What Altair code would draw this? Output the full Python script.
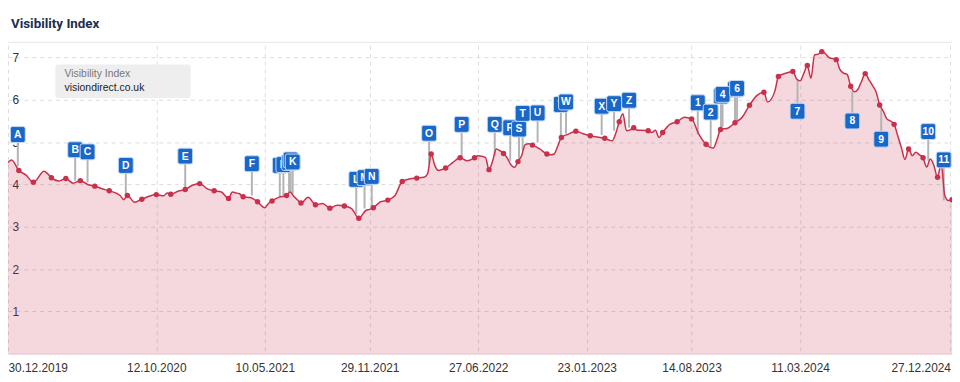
import altair as alt
import pandas as pd

START = "2019-12-30"

# weekly series: week number since START, visibility value
WEEKS = [0, 1, 3, 5, 7, 10, 11, 12, 14, 16,
         18, 20, 22, 24, 26, 28, 31, 32, 33, 35,
         37, 39, 41, 43, 44, 45, 47, 49, 51, 53,
         55, 57, 59, 61, 62, 63, 64, 65, 67, 69,
         71, 72, 73, 75, 77, 78, 79, 80, 81, 83,
         85, 87, 89, 91, 93, 95, 97, 99, 100, 101,
         103, 105, 107, 109, 111, 113, 115, 116, 117, 118,
         119, 121, 123, 125, 127, 129, 130, 132, 133, 134,
         135, 136, 137, 138, 139, 140, 141, 142, 143, 144,
         145, 147, 149, 150, 151, 152, 153, 155, 157, 159,
         161, 163, 165, 167, 168, 169, 170, 171, 172, 173,
         174, 175, 177, 178, 179, 180, 181, 183, 185, 187,
         189, 191, 193, 195, 196, 197, 199, 201, 203, 205,
         207, 209, 210, 212, 213, 215, 217, 218, 219, 220,
         221, 222, 223, 224, 225, 226, 227, 229, 230, 231,
         232, 233, 234, 235, 236, 237, 238, 239, 240, 241,
         242, 243, 244, 245, 246, 247, 248, 249, 250, 251,
         252, 253, 254, 255, 256, 257, 258, 259, 260, 261]

VALUES = [4.52, 4.58, 4.33, 4.22, 4.05, 4.31, 4.25, 4.16, 4.08, 4.14,
          4.03, 4.09, 4.00, 3.96, 3.90, 3.85, 3.74, 3.64, 3.74, 3.58,
          3.65, 3.72, 3.76, 3.73, 3.80, 3.77, 3.84, 3.88, 3.98, 4.02,
          3.90, 3.85, 3.82, 3.67, 3.82, 3.80, 3.78, 3.71, 3.69, 3.59,
          3.45, 3.55, 3.61, 3.70, 3.74, 3.82, 3.72, 3.64, 3.56, 3.70,
          3.52, 3.55, 3.44, 3.51, 3.49, 3.43, 3.20, 3.39, 3.41, 3.45,
          3.59, 3.63, 3.74, 4.07, 4.13, 4.15, 4.17, 4.25, 4.72, 4.45,
          4.33, 4.39, 4.52, 4.63, 4.56, 4.63, 4.68, 4.64, 4.35, 4.56,
          4.84, 4.80, 4.73, 4.63, 4.47, 4.40, 4.54, 4.68, 4.94, 4.96,
          4.93, 4.84, 4.72, 4.70, 4.72, 4.91, 5.11, 5.19, 5.26, 5.20,
          5.15, 5.12, 5.09, 5.03, 5.20, 5.48, 5.67, 5.27, 5.29, 5.34,
          5.28, 5.28, 5.27, 5.23, 5.28, 5.11, 5.23, 5.42, 5.48, 5.59,
          5.55, 5.19, 4.95, 4.86, 5.05, 5.30, 5.33, 5.46, 5.59, 5.87,
          6.10, 6.18, 5.95, 6.20, 6.55, 6.63, 6.67, 6.50, 6.45, 6.62,
          6.81, 6.51, 7.06, 7.08, 7.14, 7.09, 7.00, 6.95, 6.72, 6.63,
          6.60, 6.32, 6.19, 6.25, 6.44, 6.62, 6.48, 6.34, 6.19, 5.88,
          5.73, 5.55, 5.50, 5.42, 5.15, 4.87, 4.59, 4.84, 4.68, 4.76,
          4.70, 4.63, 4.41, 4.60, 4.45, 4.17, 4.49, 3.74, 3.62, 3.64]

DOT_WEEKS = [3, 7, 12, 16, 20, 24, 28, 33, 37, 41, 45, 49, 53, 57, 61, 65,
             69, 73, 77, 81, 85, 89, 93, 97, 101, 105, 109, 113, 117, 121,
             125, 129, 133, 137, 141, 145, 149, 153, 157, 161, 165, 169, 173,
             177, 181, 185, 189, 193, 197, 201, 205, 209, 213, 217, 221, 225,
             229, 233, 237, 241, 245, 249, 253, 257, 261]

# event flags
FLAG_LABELS = ["A", "B", "C", "D", "E", "F", "G", "H", "I", "J", "K", "L", "M",
               "N", "O", "P", "Q", "R", "S", "T", "U", "V", "W", "X", "Y", "Z",
               "1", "2", "3", "4", "5", "6", "7", "8", "9", "10", "11"]
FLAG_DATES = ["2020-01-18", "2020-05-08", "2020-06-01", "2020-08-14", "2020-12-07",
              "2021-04-15", "2021-06-08", "2021-06-15", "2021-06-26", "2021-06-29",
              "2021-07-03", "2021-11-03", "2021-11-19", "2021-12-03", "2022-03-24",
              "2022-05-26", "2022-07-29", "2022-08-28", "2022-09-14", "2022-09-21",
              "2022-10-20", "2022-12-04", "2022-12-14", "2023-02-21", "2023-03-17",
              "2023-04-15", "2023-08-26", "2023-09-20", "2023-10-10", "2023-10-13",
              "2023-11-06", "2023-11-10", "2024-03-06", "2024-06-20", "2024-08-15",
              "2024-11-14", "2024-12-14"]
FLAG_BOX = [5.18, 4.82, 4.77, 4.45, 4.67, 4.49, 4.45, 4.47, 4.52, 4.58, 4.53,
            4.12, 4.16, 4.19, 5.21, 5.42, 5.42, 5.34, 5.31, 5.68, 5.69, 5.89,
            5.95, 5.85, 5.91, 5.99, 5.93, 5.71, 6.09, 6.13, 6.25, 6.27, 5.73,
            5.50, 5.07, 5.25, 4.58]
FLAG_BASE = [4.43, 4.09, 4.05, 3.74, 3.90, 3.74, 3.70, 3.74, 3.82, 3.82, 3.78,
             3.30, 3.43, 3.48, 4.49, 4.63, 4.68, 4.56, 4.52, 4.80, 4.99, 5.15,
             5.20, 5.17, 5.27, 5.34, 5.19, 4.87, 5.33, 5.36, 5.50, 5.50, 6.48,
             6.20, 5.77, 4.56, 3.62]
FLAG_LEVEL = [0, 0, 1, 0, 0, 0, 0, 1, 2, 3, 4, 0, 1, 2, 0, 0, 0, 0, 1, 2, 0, 0,
              1, 0, 1, 0, 0, 1, 0, 1, 0, 1, 0, 0, 0, 0, 0]

TICK_DATES = [(2019, 12, 30), (2020, 10, 12), (2021, 5, 10), (2021, 11, 29),
              (2022, 6, 27), (2023, 1, 23), (2023, 8, 14), (2024, 3, 11),
              (2024, 12, 27)]
Y_TICKS = [1, 2, 3, 4, 5, 6, 7]

RED = "#c9304c"
BLUE = "#1967c8"

series = pd.DataFrame({"week": WEEKS, "value": VALUES})
series["date"] = (pd.Timestamp(START) + pd.to_timedelta(series["week"] * 7, unit="D")).dt.strftime("%Y-%m-%d")
series["dot"] = series["week"].isin(DOT_WEEKS)

flags = pd.DataFrame({"label": FLAG_LABELS, "date": FLAG_DATES, "box": FLAG_BOX,
                      "base": FLAG_BASE, "level": FLAG_LEVEL})

x_scale = alt.Scale(type="utc", nice=False,
                    domain=[alt.DateTime(year=2019, month=12, date=30, utc=True),
                            alt.DateTime(year=2024, month=12, date=30, utc=True)])
x_axis = alt.Axis(values=[alt.DateTime(year=y, month=m, date=d, utc=True) for y, m, d in TICK_DATES],
                  format="%d.%m.%Y", labelFlush=6, labelOverlap=False, grid=True,
                  gridDash=[4, 4], gridColor="#dcdcdc", ticks=False, tickSize=0,
                  domain=True, domainColor="#e2c6cc", labelFont="Liberation Sans",
                  labelFontSize=12, labelColor="#333333", labelPadding=9, title=None)
y_scale = alt.Scale(domain=[0, 7.29], nice=False, zero=True)
y_axis = alt.Axis(values=Y_TICKS, grid=True, gridDash=[4, 4], gridColor="#dcdcdc",
                  ticks=False, tickSize=0, domain=False, labelAlign="left",
                  labelPadding=-4, labelBaseline="middle", labelFont="Liberation Sans",
                  labelFontSize=12, labelColor="#333333", title=None)

X = alt.X("date:T", scale=x_scale, axis=x_axis)
Y = alt.Y("value:Q", scale=y_scale, axis=y_axis)

base = alt.Chart(series)
area = base.mark_area(color=RED, opacity=0.19, interpolate="monotone").encode(x=X, y=Y)
line = base.mark_line(color=RED, strokeWidth=1.5, interpolate="monotone").encode(x=X, y=Y)
dots = base.transform_filter(alt.datum.dot).mark_point(
    filled=True, color=RED, size=30, opacity=1).encode(x=X, y=Y)

fbase = alt.Chart(flags)
stems = fbase.mark_rule(color="#b4b4b4", strokeWidth=2).encode(
    x=X, y=alt.Y("base:Q", scale=y_scale, axis=y_axis), y2="box:Q")

BOX_PATH = ("M-0.72,-1.07L0.72,-1.07Q1,-1.07 1,-0.79L1,0.79Q1,1.07 0.72,1.07"
            "L-0.72,1.07Q-1,1.07 -1,0.79L-1,-0.79Q-1,-1.07 -0.72,-1.07Z")

flag_layers = []
for lvl in range(5):
    sub = fbase.transform_filter(alt.datum.level == lvl)
    boxes = sub.mark_point(shape=BOX_PATH, filled=True, fill=BLUE, stroke="#c6daf4",
                           strokeWidth=1, size=225, opacity=1).encode(
        x=X, y=alt.Y("box:Q", scale=y_scale, axis=y_axis))
    texts = sub.mark_text(color="white", font="Liberation Sans", fontWeight="bold",
                          fontSize=10.5, align="center", baseline="middle", dy=0.5).encode(
        x=X, y=alt.Y("box:Q", scale=y_scale, axis=y_axis), text="label:N")
    flag_layers += [boxes, texts]

one = alt.Chart(pd.DataFrame({"k": [0]}))
header = one.mark_text(text="Visibility Index", align="left", baseline="alphabetic",
                       font="Roboto", fontWeight="bold", fontSize=13.5,
                       color="#1d2f4e").encode(x=alt.value(3), y=alt.value(-17.5))
sep = one.mark_rule(color="#e6e6e6", strokeWidth=1).encode(
    x=alt.value(-8), x2=alt.value(960), y=alt.value(-3))
leg_box = one.mark_rect(fill="#eeeeee", cornerRadius=3).encode(
    x=alt.value(47.7), x2=alt.value(184.3), y=alt.value(19.3), y2=alt.value(53.3))
leg_t1 = one.mark_text(text="Visibility Index", align="left", baseline="middle",
                       font="Liberation Sans", fontSize=10.5, color="#777777").encode(
    x=alt.value(57), y=alt.value(29))
leg_t2 = one.mark_text(text="visiondirect.co.uk", align="left", baseline="middle",
                       font="Liberation Sans", fontSize=10.5, color="#222222").encode(
    x=alt.value(57), y=alt.value(43))

chart = alt.layer(area, stems, line, dots, *flag_layers, header, sep, leg_box, leg_t1, leg_t2).properties(
    width=952, height=311,
    padding={"left": 0, "right": 0, "top": 36, "bottom": 27},
    autosize=alt.AutoSizeParams(type="none"),
    background="white",
).configure_view(stroke=None)

chart.save("out.html", embed_options={"renderer": "svg", "actions": False})
